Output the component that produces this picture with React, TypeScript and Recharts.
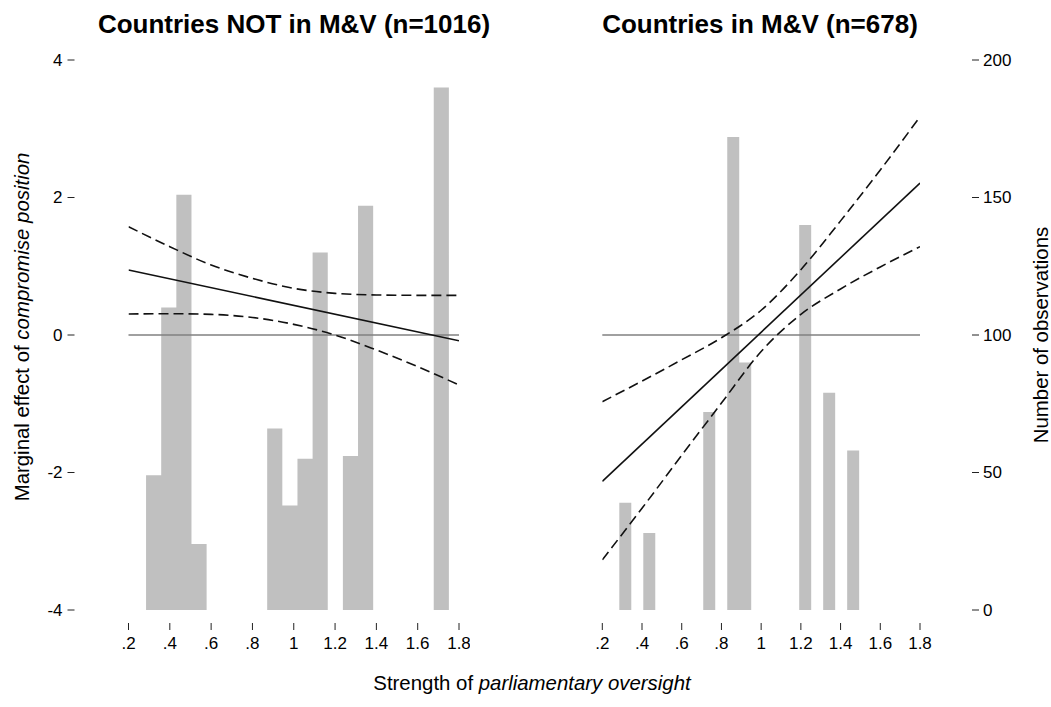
import React from 'react';
import { ComposedChart, Area, Line, XAxis, YAxis, ReferenceLine } from 'recharts';

const FONT = '"Liberation Sans", Arial, Helvetica, sans-serif';

// x axis ticks (strength of parliamentary oversight)
const X_TICKS = [0.2, 0.4, 0.6, 0.8, 1, 1.2, 1.4, 1.6, 1.8];
const ME_TICKS = [-4, -2, 0, 2, 4];
const N_TICKS = [0, 50, 100, 150, 200];

// histograms, 20 bins each
const LEFT_BIN_START = 0.285;
const LEFT_BIN_WIDTH = 0.0733;
const LEFT_COUNTS = [49, 110, 151, 24, 0, 0, 0, 0, 66, 38, 55, 130, 0, 56, 147, 0, 0, 0, 0, 190];

const RIGHT_BIN_START = 0.2856;
const RIGHT_BIN_WIDTH = 0.0604;
const RIGHT_COUNTS = [39, 0, 28, 0, 0, 0, 0, 72, 0, 172, 90, 0, 0, 0, 0, 140, 0, 79, 0, 58];

// marginal effect lines
const ME_X = [0.2, 1.8];
const LEFT_ME = [0.945, -0.083];
const RIGHT_ME = [-2.13, 2.21];

// confidence bounds read at these x
const CI_X = [0.2, 0.4, 0.6, 0.8, 1, 1.2, 1.4, 1.6, 1.8];
const LEFT_UPPER = [1.575, 1.285, 1.018, 0.824, 0.679, 0.606, 0.582, 0.577, 0.577];
const LEFT_LOWER = [0.305, 0.31, 0.3, 0.255, 0.155, 0.0, -0.218, -0.46, -0.727];
const RIGHT_UPPER = [-0.97, -0.67, -0.36, -0.04, 0.36, 0.95, 1.66, 2.4, 3.175];
const RIGHT_LOWER = [-3.27, -2.52, -1.75, -0.99, -0.24, 0.3, 0.67, 0.99, 1.285];

const histPoints = (start: number, width: number, counts: number[]) => {
  const pts = counts.map((n, i) => ({ x: start + i * width, n }));
  pts.push({ x: start + counts.length * width, n: 0 });
  return pts;
};

const linePoints = (xs: number[], vs: number[]) => xs.map((x, i) => ({ x, v: vs[i] }));

const fmtX = (v: number) => (v < 1 ? String(v).replace(/^0/, '') : String(v));

const TICK_FS = 17;
const TITLE_FS = 20.4;

const XTick = ({ x, y, payload }: any) => (
  <g>
    <line x1={x} x2={x} y1={y + 13} y2={y + 20} stroke="#222" strokeWidth={1} />
    <text x={x} y={y + 33} textAnchor="middle" dominantBaseline="central" fontSize={TICK_FS} fill="#000" fontFamily={FONT}>
      {fmtX(payload.value)}
    </text>
  </g>
);

const MeTick = ({ x, y, payload }: any) => (
  <g>
    <line x1={x - 61} x2={x - 54} y1={y} y2={y} stroke="#222" strokeWidth={1} />
    <text x={x - 66} y={y} textAnchor="end" dominantBaseline="central" fontSize={TICK_FS} fill="#000" fontFamily={FONT}>
      {payload.value}
    </text>
  </g>
);

const NTick = ({ x, y, payload }: any) => (
  <g>
    <line x1={x + 52} x2={x + 59} y1={y} y2={y} stroke="#222" strokeWidth={1} />
    <text x={x + 63} y={y} textAnchor="start" dominantBaseline="central" fontSize={TICK_FS} fill="#000" fontFamily={FONT}>
      {payload.value}
    </text>
  </g>
);

type PanelProps = {
  left: number;
  width: number;
  margin: { top: number; right: number; bottom: number; left: number };
  hist: { x: number; n: number }[];
  me: { x: number; v: number }[];
  upper: { x: number; v: number }[];
  lower: { x: number; v: number }[];
  rightAxis: boolean;
};

function Panel({ left, width, margin, hist, me, upper, lower, rightAxis }: PanelProps) {
  return (
    <div style={{ position: 'absolute', left, top: 0 }}>
      <ComposedChart width={width} height={707} margin={margin}>
        <XAxis
          type="number"
          dataKey="x"
          domain={[0.2, 1.8]}
          ticks={X_TICKS}
          interval={0}
          allowDataOverflow
          axisLine={false}
          tickLine={false}
          tickSize={0}
          tickMargin={0}
          height={50}
          tick={XTick}
        />
        <YAxis
          yAxisId="me"
          type="number"
          domain={[-4, 4]}
          ticks={ME_TICKS}
          allowDataOverflow
          hide={rightAxis}
          width={128.5}
          axisLine={false}
          tickLine={false}
          tickSize={0}
          tickMargin={0}
          interval={0}
          tick={MeTick}
        />
        <YAxis
          yAxisId="n"
          type="number"
          orientation="right"
          domain={[0, 200]}
          ticks={N_TICKS}
          allowDataOverflow
          hide={!rightAxis}
          width={131}
          axisLine={false}
          tickLine={false}
          tickSize={0}
          tickMargin={0}
          interval={0}
          tick={NTick}
        />
        <Area
          yAxisId="n"
          data={hist}
          dataKey="n"
          type="stepAfter"
          fill="#c0c0c0"
          fillOpacity={1}
          stroke="none"
          isAnimationActive={false}
          dot={false}
          activeDot={false}
        />
        <ReferenceLine yAxisId="me" y={0} stroke="#808080" strokeWidth={1.6} />
        <Line
          yAxisId="me"
          data={upper}
          dataKey="v"
          type="monotone"
          stroke="#111"
          strokeWidth={1.6}
          strokeDasharray="10 5"
          dot={false}
          activeDot={false}
          isAnimationActive={false}
        />
        <Line
          yAxisId="me"
          data={lower}
          dataKey="v"
          type="monotone"
          stroke="#111"
          strokeWidth={1.6}
          strokeDasharray="10 5"
          dot={false}
          activeDot={false}
          isAnimationActive={false}
        />
        <Line
          yAxisId="me"
          data={me}
          dataKey="v"
          type="linear"
          stroke="#111"
          strokeWidth={1.6}
          dot={false}
          activeDot={false}
          isAnimationActive={false}
        />
      </ComposedChart>
    </div>
  );
}

export default function App() {
  return (
    <div style={{ position: 'absolute', left: 0, top: 0, width: 1051, height: 707, background: '#fff', fontFamily: FONT }}>
      <Panel
        left={0}
        width={470}
        margin={{ top: 60, right: 11, bottom: 47, left: 0 }}
        hist={histPoints(LEFT_BIN_START, LEFT_BIN_WIDTH, LEFT_COUNTS)}
        me={linePoints(ME_X, LEFT_ME)}
        upper={linePoints(CI_X, LEFT_UPPER)}
        lower={linePoints(CI_X, LEFT_LOWER)}
        rightAxis={false}
      />
      <Panel
        left={540}
        width={511}
        margin={{ top: 60, right: 0, bottom: 47, left: 62.3 }}
        hist={histPoints(RIGHT_BIN_START, RIGHT_BIN_WIDTH, RIGHT_COUNTS)}
        me={linePoints(ME_X, RIGHT_ME)}
        upper={linePoints(CI_X, RIGHT_UPPER)}
        lower={linePoints(CI_X, RIGHT_LOWER)}
        rightAxis
      />
      <svg width={1051} height={707} style={{ position: 'absolute', left: 0, top: 0, pointerEvents: 'none' }} fontFamily={FONT}>
        <text x={294} y={33} textAnchor="middle" fontSize={26} fontWeight="bold" fill="#000">
          Countries NOT in M&amp;V (n=1016)
        </text>
        <text x={760} y={33} textAnchor="middle" fontSize={26} fontWeight="bold" fill="#000">
          Countries in M&amp;V (n=678)
        </text>
        <text transform="translate(22,327) rotate(-90)" textAnchor="middle" dominantBaseline="central" fontSize={TITLE_FS} fill="#000">
          Marginal effect of <tspan fontStyle="italic">compromise position</tspan>
        </text>
        <text transform="translate(1041,335) rotate(-90)" textAnchor="middle" dominantBaseline="central" fontSize={TITLE_FS} fill="#000">
          Number of observations
        </text>
        <text x={532} y={683} textAnchor="middle" dominantBaseline="central" fontSize={TITLE_FS} fill="#000">
          Strength of <tspan fontStyle="italic">parliamentary oversight</tspan>
        </text>
      </svg>
    </div>
  );
}
